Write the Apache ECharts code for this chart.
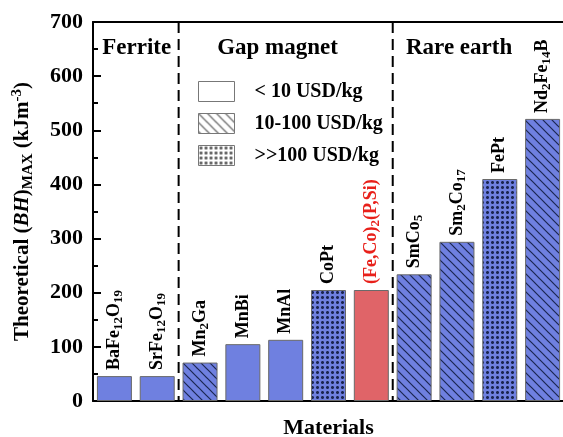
<!DOCTYPE html>
<html>
<head>
<meta charset="utf-8">
<script src="https://cdn.jsdelivr.net/npm/echarts@6/dist/echarts.min.js"></script>
<style>
  html, body { margin: 0; padding: 0; background: #fff; }
  #main { width: 563px; height: 437px; }
</style>
</head>
<body>
<div id="main"></div>
<script>
// materials and their theoretical (BH)max, kJ/m3
const categories = ['BaFe12O19', 'SrFe12O19', 'Mn2Ga', 'MnBi', 'MnAl', 'CoPt', '(Fe,Co)2(P,Si)', 'SmCo5', 'Sm2Co17', 'FePt', 'Nd2Fe14B'];
const bhMax = [46, 46, 71, 105, 113, 205, 205, 234, 294, 410, 521];
// 0: < 10, 1: 10-100, 2: >>100 USD/kg
const costClass = [0, 0, 1, 0, 0, 2, 0, 1, 1, 2, 1];
const costNames = ['< 10 USD/kg', '10-100 USD/kg', '>>100 USD/kg'];
const highlighted = '(Fe,Co)2(P,Si)';
const groupNames = ['Ferrite', 'Gap magnet', 'Rare earth'];
const dividers = [1.5, 6.5];
const yTicks = [0, 100, 200, 300, 400, 500, 600, 700];

const FONT = 'Liberation Serif';
const BLUE = '#6f80e0';
const DARK = '#1b2550';

function makePattern(bg, fg, kind) {
  let c = document.createElement('canvas');
  let ctx;
  if (kind === 'hatch') {
    c.width = c.height = 9;
    ctx = c.getContext('2d');
    ctx.fillStyle = bg;
    ctx.fillRect(0, 0, 9, 9);
    ctx.strokeStyle = fg;
    ctx.lineWidth = 1.2;
    [-9, 0, 9].forEach(o => {
      ctx.beginPath();
      ctx.moveTo(o - 1, -1);
      ctx.lineTo(o + 10, 10);
      ctx.stroke();
    });
  } else if (kind === 'dots') {
    c.width = c.height = 5;
    ctx = c.getContext('2d');
    ctx.fillStyle = bg;
    ctx.fillRect(0, 0, 5, 5);
    ctx.fillStyle = fg;
    ctx.fillRect(2, 1, 1, 3);
    ctx.fillRect(1, 2, 3, 1);
    ctx.globalAlpha = 0.55;
    ctx.fillRect(1, 1, 1, 1);
    ctx.fillRect(3, 1, 1, 1);
    ctx.fillRect(1, 3, 1, 1);
    ctx.fillRect(3, 3, 1, 1);
  } else {
    c.width = c.height = 4;
    ctx = c.getContext('2d');
    ctx.fillStyle = bg;
    ctx.fillRect(0, 0, 4, 4);
  }
  return { image: c, repeat: 'repeat' };
}

const kinds = ['plain', 'hatch', 'dots'];
const barFills = kinds.map(k => makePattern(BLUE, DARK, k));
const legendFills = kinds.map(k => makePattern('#ffffff', '#555555', k));

// digits become subscripts
function formula(name) {
  return name.replace(/(\d+)|([^\d]+)/g, (m, d, t) => d ? '{s|' + d + '}' : '{b|' + t + '}');
}

const labelRich = {
  b: { fontFamily: FONT, fontWeight: 'bold', fontSize: 18, lineHeight: 20 },
  s: { fontFamily: FONT, fontWeight: 'bold', fontSize: 13, lineHeight: 13, padding: [9, 0, 0, 0] }
};

const barSeries = costNames.map((name, k) => ({
  name: name,
  type: 'bar',
  barWidth: 35,
  barGap: '-100%',
  xAxisIndex: 0,
  yAxisIndex: 0,
  itemStyle: { color: barFills[k], borderColor: '#6a6a6a', borderWidth: 1 },
  label: {
    show: true,
    position: 'top',
    rotate: 90,
    align: 'left',
    verticalAlign: 'middle',
    distance: 6,
    color: '#000',
    formatter: p => formula(p.name),
    rich: labelRich
  },
  data: bhMax.map((v, i) => {
    if (costClass[i] !== k) return '-';
    if (categories[i] === highlighted) {
      return { value: v, itemStyle: { color: '#e06468' }, label: { color: '#e8201a' } };
    }
    return v;
  })
}));

let myChart = echarts.init(document.getElementById('main'));
let option = {
  animation: false,
  backgroundColor: '#fff',
  grid: { left: 93, right: -1, top: 22, bottom: 36, outerBoundsMode: 'none', containLabel: false },
  legend: {
    orient: 'vertical',
    left: 193,
    top: 76,
    itemWidth: 36,
    itemHeight: 20,
    itemGap: 11,
    icon: 'rect',
    selectedMode: false,
    textStyle: { fontFamily: FONT, fontWeight: 'bold', fontSize: 20, color: '#000', padding: [0, 0, 0, 15] },
    data: costNames.map((n, k) => ({
      name: n,
      itemStyle: { color: legendFills[k], borderColor: '#777', borderWidth: 1 }
    }))
  },
  xAxis: [{
    type: 'category',
    data: categories,
    name: 'Materials',
    nameLocation: 'middle',
    nameGap: 16,
    nameTextStyle: { fontFamily: FONT, fontWeight: 'bold', fontSize: 22, color: '#000' },
    axisLine: { onZero: false, lineStyle: { color: '#000', width: 2 } },
    axisTick: { show: false },
    axisLabel: { show: false }
  }, {
    type: 'value',
    min: -0.5,
    max: 10.5,
    position: 'top',
    axisLine: { show: true, onZero: false, lineStyle: { color: '#000', width: 2 } },
    axisTick: { show: false },
    axisLabel: { show: false },
    splitLine: { show: false }
  }],
  yAxis: {
    type: 'value',
    min: 0,
    max: 700,
    interval: 100,
    position: 'left',
    name: '{t|Theoretical (}{i|BH}{t|)}{s|MAX}{t| (kJm}{p|-3}{t|)}',
    nameLocation: 'middle',
    nameGap: 58,
    nameRotate: 90,
    nameTextStyle: {
      rich: {
        t: { fontFamily: FONT, fontWeight: 'bold', fontSize: 21, color: '#000', lineHeight: 24 },
        i: { fontFamily: FONT, fontWeight: 'bold', fontStyle: 'italic', fontSize: 21, color: '#000', lineHeight: 24 },
        s: { fontFamily: FONT, fontWeight: 'bold', fontSize: 15, color: '#000', lineHeight: 15, padding: [11, 0, 0, 0] },
        p: { fontFamily: FONT, fontWeight: 'bold', fontSize: 15, color: '#000', lineHeight: 15, padding: [0, 0, 11, 0] }
      }
    },
    axisLine: { show: true, onZero: false, lineStyle: { color: '#000', width: 2 } },
    axisTick: { show: true, inside: true, length: 8, lineStyle: { color: '#000', width: 2 } },
    minorTick: { show: true, splitNumber: 2, length: 5, lineStyle: { color: '#000', width: 2 } },
    splitLine: { show: false },
    axisLabel: {
      margin: 10,
      fontFamily: FONT,
      fontWeight: 'bold',
      fontSize: 22,
      color: '#000',
      formatter: v => yTicks.indexOf(v) >= 0 ? String(v) : ''
    }
  },
  series: barSeries.concat([{
    type: 'custom',
    xAxisIndex: 1,
    yAxisIndex: 0,
    silent: true,
    data: dividers.map(d => [d]),
    renderItem: (params, api) => {
      let x = api.value(0);
      let top = api.coord([x, 700]);
      let bot = api.coord([x, 0]);
      return {
        type: 'line',
        shape: { x1: top[0], y1: top[1], x2: bot[0], y2: bot[1] },
        style: { stroke: '#000', lineWidth: 2, lineDash: [11, 6] }
      };
    }
  }, {
    type: 'custom',
    xAxisIndex: 1,
    yAxisIndex: 0,
    silent: true,
    data: [[0.52, 652], [3.81, 652], [8.05, 652]],
    renderItem: (params, api) => {
      let p = api.coord([api.value(0), api.value(1)]);
      return {
        type: 'text',
        x: p[0],
        y: p[1],
        style: {
          text: groupNames[params.dataIndex],
          fontFamily: FONT,
          fontWeight: 'bold',
          fontSize: 23,
          fill: '#000',
          align: 'center',
          verticalAlign: 'middle'
        }
      };
    }
  }])
};
myChart.setOption(option);
</script>
</body>
</html>
